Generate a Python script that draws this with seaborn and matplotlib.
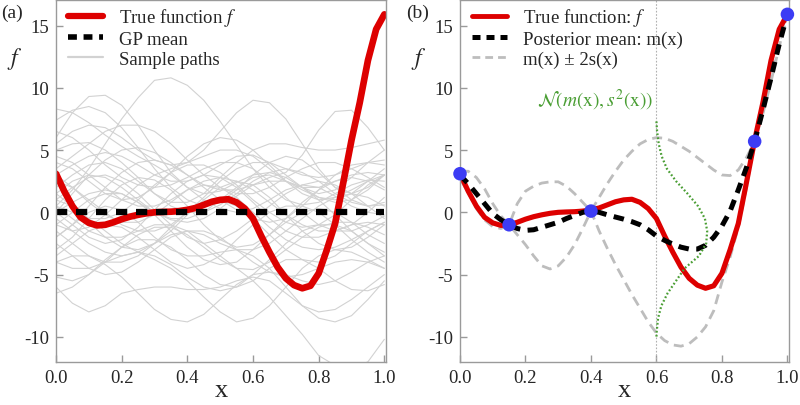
import numpy as np
import pandas as pd
import matplotlib
matplotlib.use("Agg")
import matplotlib.pyplot as plt
from matplotlib.lines import Line2D
import seaborn as sns

# ---------------- data ----------------
x_fine = [i * 0.025 for i in range(41)]
true_f = [3.1, 1.7, 0.5, -0.4, -0.85, -1.05, -1.0, -0.8, -0.55, -0.35, -0.2,
          -0.08, 0.0, 0.03, 0.05, 0.1, 0.2, 0.35, 0.6, 0.85, 1.0,
          1.05, 0.8, 0.3, -0.5, -1.9, -3.2, -4.4, -5.3, -5.85, -6.1,
          -5.9, -4.9, -3.0, -0.9, 2.4, 5.8, 8.8, 12.2, 14.7, 15.9]
post_mean = [3.0, 2.3, 1.5, 0.7, -0.1, -0.6, -1.0, -1.3, -1.45, -1.4, -1.2,
             -1.0, -0.8, -0.5, -0.25, 0.0, 0.1, 0.0, -0.2, -0.38, -0.55,
             -0.75, -1.0, -1.4, -1.9, -2.25, -2.55, -2.8, -2.95, -2.95, -2.65,
             -2.0, -1.1, 0.1, 1.8, 3.6, 5.7, 8.2, 10.8, 13.5, 15.9]
band_upper = [3.3, 3.3, 2.8, 1.9, 0.7, -0.3, -1.0, 0.7, 1.7, 2.1, 2.35,
              2.45, 2.45, 2.1, 1.5, 0.8, 0.1, 1.2, 2.3, 3.3, 4.2,
              4.9, 5.5, 5.85, 6.0, 5.95, 5.7, 5.3, 4.9, 4.4, 3.9,
              3.4, 3.0, 2.95, 3.4, 4.4, 5.7, 7.9, 10.5, 13.3, 15.9]
band_lower = [2.7, 1.6, 0.3, -0.6, -1.15, -1.3, -1.0, -1.8, -2.6, -3.5, -4.3,
              -4.55, -4.3, -3.6, -2.6, -1.3, 0.1, -1.5, -2.9, -4.2, -5.4,
              -6.6, -7.7, -8.8, -9.7, -10.3, -10.65, -10.75, -10.55, -10.0, -9.2,
              -7.9, -5.6, -3.6, -1.2, 2.0, 5.7, 8.4, 11.0, 13.6, 15.9]

obs_x = [0.0, 0.15, 0.4, 0.9, 1.0]
obs_y = [3.1, -1.0, 0.1, 5.7, 15.9]

gp_mean_x = [0.0, 1.0]
gp_mean_y = [0.0, 0.0]

# green predictive density drawn sideways at x = 0.6
dens_y = [7.3, 6.5, 5.5, 4.5, 3.5, 2.5, 1.5, 0.5, -0.5, -1.5, -2.5, -3.5,
          -4.5, -5.5, -6.5, -7.5, -8.5, -9.5, -10.0]
dens_x = [0.600, 0.602, 0.607, 0.616, 0.632, 0.660, 0.695, 0.727, 0.748, 0.755,
          0.752, 0.730, 0.686, 0.660, 0.634, 0.615, 0.605, 0.601, 0.600]

# prior sample paths (x = 0, 0.05, ..., 1.0)
x_paths = [i * 0.05 for i in range(21)]
sample_paths = [
    [0.5, 1.8, 3.5, 5.5, 7.5, 9.2, 10.6, 10.8, 10.2, 9.0, 7.3, 5.4, 3.5, 2.0, 1.0, 0.6, 0.8, 1.5, 2.2, 2.6, 2.5],
    [6.0, 8.0, 9.3, 9.4, 8.6, 7.0, 5.0, 3.2, 2.0, 1.5, 1.7, 2.4, 3.0, 3.2, 2.8, 2.0, 1.2, 0.8, 1.0, 1.8, 3.0],
    [-1.0, -1.5, -1.2, -0.2, 1.0, 2.2, 3.0, 3.5, 4.0, 5.0, 6.5, 8.0, 9.0, 8.8, 7.5, 5.5, 3.5, 2.0, 1.5, 2.0, 3.0],
    [0.0, 0.8, 1.5, 1.8, 1.5, 0.8, 0.0, -0.6, -0.8, -0.5, 0.3, 1.3, 2.2, 2.8, 3.2, 4.6, 6.6, 8.1, 8.2, 6.8, 5.0],
    [8.3, 8.0, 7.2, 6.2, 5.3, 4.5, 3.8, 3.0, 2.0, 1.0, 0.3, 0.0, 0.3, 1.0, 1.8, 2.2, 2.0, 1.3, 0.5, 0.0, -0.2],
    [7.4, 8.2, 8.5, 8.0, 6.8, 5.2, 3.5, 2.0, 1.0, 0.5, 0.8, 1.8, 3.0, 4.0, 4.5, 4.2, 3.2, 2.0, 1.0, 0.5, 0.6],
    [0.5, -0.5, -1.5, -2.0, -2.0, -1.5, -1.0, -1.0, -1.5, -2.5, -3.5, -4.5, -5.5, -6.8, -8.3, -9.8, -11.5, -12.3, -12.6, -12.0, -10.2],
    [-2.0, -1.0, 0.0, 0.5, 0.2, -0.8, -2.0, -3.0, -3.5, -3.5, -3.2, -3.0, -3.5, -4.5, -6.0, -7.5, -8.5, -8.8, -8.3, -7.0, -5.5],
    [-4.0, -3.5, -3.5, -4.2, -5.2, -6.5, -7.8, -8.6, -8.8, -8.2, -7.0, -5.8, -5.0, -4.8, -5.0, -5.5, -5.8, -5.5, -4.8, -4.0, -3.5],
    [3.0, 3.8, 4.5, 4.8, 4.5, 3.8, 3.0, 2.5, 2.5, 3.0, 3.8, 4.5, 4.6, 4.0, 3.0, 2.0, 1.5, 1.8, 2.8, 4.0, 5.0],
    [-3.0, -2.0, -0.5, 1.0, 2.2, 2.8, 2.6, 1.8, 0.5, -1.0, -2.2, -2.8, -2.6, -1.8, -0.8, 0.0, 0.3, 0.0, -0.8, -1.8, -2.5],
    [1.5, 0.5, -0.8, -2.0, -2.8, -3.0, -2.5, -1.5, -0.2, 1.0, 2.0, 2.5, 2.2, 1.2, -0.2, -1.5, -2.5, -3.0, -2.8, -2.0, -1.0],
    [5.0, 5.5, 5.6, 5.0, 4.0, 2.8, 1.5, 0.5, 0.0, 0.0, 0.6, 1.5, 2.5, 3.2, 3.5, 3.2, 2.5, 1.5, 0.8, 0.5, 0.8],
    [-5.2, -5.5, -5.0, -4.0, -2.8, -1.8, -1.2, -1.2, -1.8, -2.8, -3.8, -4.5, -4.6, -4.0, -3.0, -2.0, -1.2, -0.8, -0.8, -1.2, -1.8],
    [0.0, 1.5, 3.0, 4.2, 5.0, 5.2, 4.8, 4.0, 3.0, 2.2, 1.8, 1.8, 2.2, 2.5, 2.5, 2.0, 1.0, -0.2, -1.5, -2.5, -3.2],
    [2.5, 2.0, 1.0, 0.0, -1.0, -1.5, -1.5, -1.0, 0.0, 1.2, 2.5, 3.5, 4.0, 4.0, 3.5, 3.0, 2.8, 3.0, 3.5, 4.0, 4.2],
    [-1.5, -2.5, -3.5, -4.0, -4.0, -3.5, -2.5, -1.2, 0.0, 0.8, 1.0, 0.5, -0.5, -1.8, -3.0, -3.8, -4.0, -3.5, -2.5, -1.5, -0.8],
    [4.0, 3.5, 2.5, 1.5, 1.0, 1.2, 2.0, 3.2, 4.5, 5.5, 6.0, 5.8, 5.0, 3.8, 2.5, 1.5, 1.0, 1.2, 1.8, 2.5, 3.0],
    [-6.5, -6.0, -5.0, -3.8, -2.8, -2.2, -2.2, -2.8, -3.8, -5.0, -5.8, -6.0, -5.5, -4.5, -3.8, -3.8, -4.5, -5.5, -6.2, -6.3, -5.8],
    [1.0, 2.0, 2.8, 3.0, 2.5, 1.5, 0.2, -1.0, -2.0, -2.5, -2.2, -1.5, -0.5, 0.5, 1.5, 2.2, 2.5, 2.2, 1.5, 0.5, -0.5],
    [6.5, 6.0, 5.0, 3.8, 2.8, 2.2, 2.0, 2.2, 2.8, 3.5, 4.0, 4.0, 3.5, 2.5, 1.2, 0.0, -1.0, -1.5, -1.5, -1.0, -0.3],
    [-2.5, -3.5, -4.5, -5.0, -4.8, -4.0, -3.0, -2.0, -1.5, -1.5, -2.0, -3.0, -4.0, -4.8, -5.2, -5.0, -4.5, -4.0, -3.8, -4.0, -4.5],
    [3.5, 4.5, 5.5, 6.5, 7.0, 7.0, 6.5, 5.5, 4.2, 3.0, 2.0, 1.5, 1.5, 2.0, 2.8, 3.5, 4.0, 4.0, 3.5, 2.8, 2.0],
    [0.5, 0.0, -0.5, -0.5, 0.0, 1.0, 2.2, 3.2, 3.8, 3.8, 3.2, 2.2, 1.0, 0.0, -0.8, -1.2, -1.0, -0.2, 1.0, 2.2, 3.0],
    [-4.0, -4.5, -4.5, -4.0, -3.5, -3.2, -3.5, -4.2, -5.2, -6.0, -6.3, -6.0, -5.0, -3.8, -2.5, -1.5, -1.0, -1.0, -1.5, -2.5, -3.5],
    [2.0, 3.0, 3.8, 4.0, 3.5, 2.5, 1.5, 0.8, 0.8, 1.5, 2.8, 4.0, 5.0, 5.5, 5.5, 5.2, 5.0, 5.0, 5.2, 5.5, 5.8],
    [-1.0, 0.0, 1.0, 1.5, 1.5, 0.8, -0.2, -1.5, -2.8, -3.8, -4.2, -4.0, -3.0, -1.8, -0.5, 0.8, 1.8, 2.5, 2.8, 2.5, 1.8],
    [4.5, 4.0, 3.0, 2.0, 1.0, 0.5, 0.5, 1.0, 1.8, 2.5, 2.8, 2.5, 1.8, 0.8, -0.2, -1.0, -1.5, -1.5, -1.0, 0.0, 1.2],
    [-3.5, -2.5, -1.5, -1.0, -1.2, -2.0, -3.0, -4.0, -4.5, -4.2, -3.5, -2.2, -1.0, 0.0, 0.5, 0.5, 0.0, -1.0, -2.2, -3.2, -4.0],
    [1.5, 2.5, 3.0, 2.8, 2.0, 1.0, 0.0, -0.5, -0.5, 0.0, 1.0, 2.0, 2.8, 3.0, 2.5, 1.8, 1.2, 1.0, 1.5, 2.5, 3.5],
    [-0.5, -1.5, -2.5, -3.2, -3.5, -3.2, -2.5, -1.8, -1.5, -1.8, -2.5, -3.0, -3.0, -2.5, -1.5, -0.5, 0.5, 1.2, 1.5, 1.2, 0.5],
    [3.0, 2.0, 0.8, -0.2, -0.8, -0.8, -0.2, 0.8, 1.8, 2.2, 2.0, 1.2, 0.0, -1.2, -2.2, -2.8, -3.0, -2.8, -2.2, -1.5, -0.8],
    [-6.0, -7.3, -8.0, -7.5, -6.5, -6.2, -6.0, -6.0, -6.2, -6.2, -6.0, -5.5, -5.2, -5.5, -6.5, -7.5, -8.0, -7.8, -7.0, -6.0, -5.0],
    [5.5, 6.5, 7.0, 6.8, 6.0, 5.0, 4.2, 3.8, 4.0, 4.5, 5.0, 5.0, 4.5, 3.5, 2.5, 2.0, 2.0, 2.5, 3.0, 3.2, 3.0],
    [0.0, -1.0, -2.0, -2.5, -2.2, -1.2, 0.2, 1.5, 2.5, 3.0, 2.8, 2.0, 0.8, -0.5, -1.5, -2.0, -2.0, -1.5, -1.0, -0.8, -1.0],
    [-2.0, -1.0, 0.5, 2.0, 3.2, 4.0, 4.2, 3.8, 3.0, 2.0, 1.0, 0.2, -0.5, -0.8, -0.5, 0.5, 1.8, 3.0, 3.8, 4.0, 3.8],
    [1.0, 0.5, -0.5, -1.5, -2.5, -3.2, -3.8, -4.5, -5.5, -6.8, -8.0, -8.8, -8.5, -7.5, -6.0, -4.5, -3.5, -3.0, -3.2, -3.8, -4.5],
]

x_ticks = [0.0, 0.2, 0.4, 0.6, 0.8, 1.0]
x_tick_labels = ["0.0", "0.2", "0.4", "0.6", "0.8", "1.0"]
y_ticks = [-10, -5, 0, 5, 10, 15]
y_tick_labels = ["-10", "-5", "0", "5", "10", "15"]

legend_a = ["True function $f$", "GP mean", "Sample paths"]
legend_b = ["True function: $f$", "Posterior mean: m(x)", "m(x) \u00b1 2s(x)"]

# ---------------- styling ----------------
sns.set_theme(style="white")
plt.rcParams["font.family"] = ["Liberation Serif", "DejaVu Serif"]
plt.rcParams["mathtext.fontset"] = "stix"
plt.rcParams["axes.unicode_minus"] = False

RED = "#dd0000"
GRAY_PATH = "#d2d2d2"
GRAY_BAND = "#bdbdbd"
GREEN = "#4a9e34"
BLUE = "#3c3cf4"
SPINE = "#9a9a9a"

fig = plt.figure(figsize=(8.0, 4.06), dpi=100)
ax_a = fig.add_axes([0.07, 0.105, 0.4125, 0.8925])
ax_b = fig.add_axes([0.575, 0.105, 0.4113, 0.8925])

# ---- panel (a) ----
df_paths = pd.DataFrame({
    "x": np.tile(x_paths, len(sample_paths)),
    "y": np.concatenate(sample_paths),
    "path": np.repeat(np.arange(len(sample_paths)), len(x_paths)),
})
sns.lineplot(data=df_paths, x="x", y="y", units="path", estimator=None,
             color=GRAY_PATH, lw=0.8, ax=ax_a)
sns.lineplot(x=x_fine, y=true_f, color=RED, lw=4.8, ax=ax_a,
             solid_capstyle="round")
sns.lineplot(x=gp_mean_x, y=gp_mean_y, color="black", lw=4.5, ax=ax_a,
             linestyle=(0, (1.8, 1.4)))

legend_kw = dict(loc="upper left", bbox_to_anchor=(0.035, 0.983),
                 frameon=False, fontsize=13.5, handlelength=1.9,
                 handletextpad=0.85, labelspacing=0.14, borderpad=0.0,
                 borderaxespad=0.0)

handles_a = [Line2D([], [], color=RED, lw=4.5),
             Line2D([], [], color="black", lw=4.0, linestyle=(0, (1.6, 1.2))),
             Line2D([], [], color=GRAY_PATH, lw=1.6)]
ax_a.legend(handles_a, legend_a, **legend_kw)

# ---- panel (b) ----
ax_b.axvline(0.6, color="#b0b0b0", lw=0.8, linestyle=(0, (1.5, 1.5)))
sns.lineplot(x=x_fine, y=band_upper, color=GRAY_BAND, lw=2.0, ax=ax_b,
             linestyle=(0, (3.6, 2.2)))
sns.lineplot(x=x_fine, y=band_lower, color=GRAY_BAND, lw=2.0, ax=ax_b,
             linestyle=(0, (3.6, 2.2)))
sns.lineplot(x=x_fine, y=true_f, color=RED, lw=3.7, ax=ax_b,
             solid_capstyle="round")
sns.lineplot(x=x_fine, y=post_mean, color="black", lw=3.6, ax=ax_b,
             linestyle=(0, (2.1, 1.5)))
sns.lineplot(x=dens_x, y=dens_y, sort=False, estimator=None, color=GREEN,
             lw=1.6, ax=ax_b, linestyle=(0, (0.8, 1.0)))
sns.scatterplot(x=obs_x, y=obs_y, color=BLUE, s=95, edgecolor="none",
                ax=ax_b, zorder=10, clip_on=False)
ax_b.text(0.59, 9.1, r"$\mathcal{N}(m(\mathrm{x}), s^2(\mathrm{x}))$",
          color=GREEN, fontsize=14, ha="right", va="center")

handles_b = [Line2D([], [], color=RED, lw=3.5),
             Line2D([], [], color="black", lw=3.6, linestyle=(0, (1.6, 1.2))),
             Line2D([], [], color=GRAY_BAND, lw=2.0, linestyle=(0, (2.8, 1.8)))]
ax_b.legend(handles_b, legend_b, **legend_kw)

# ---- shared axis formatting ----
for ax, tag, tag_x in [(ax_a, "(a)", 0.015), (ax_b, "(b)", 0.5225)]:
    ax.set_xlim(0, 1.005)
    ax.set_ylim(-12.05, 17.05)
    ax.set_xticks(x_ticks)
    ax.set_xticklabels(x_tick_labels)
    ax.set_yticks(y_ticks)
    ax.set_yticklabels(y_tick_labels)
    ax.tick_params(axis="both", direction="in", length=5, width=1.0,
                   color=SPINE, labelsize=13.5, pad=5, left=True, bottom=True)
    for sp in ax.spines.values():
        sp.set_color(SPINE)
        sp.set_linewidth(1.0)
    ax.set_xlabel("")
    ax.set_ylabel("")
    ax.text(0.5, -0.075, "x", transform=ax.transAxes, fontsize=19,
            ha="center", va="center")
    ax.text(-0.125, 0.84, "$f$", transform=ax.transAxes, fontsize=17,
            ha="center", va="center")
    fig.text(tag_x, 0.967, tag, fontsize=14, ha="center", va="center")

fig.savefig("out.png", dpi=100)
